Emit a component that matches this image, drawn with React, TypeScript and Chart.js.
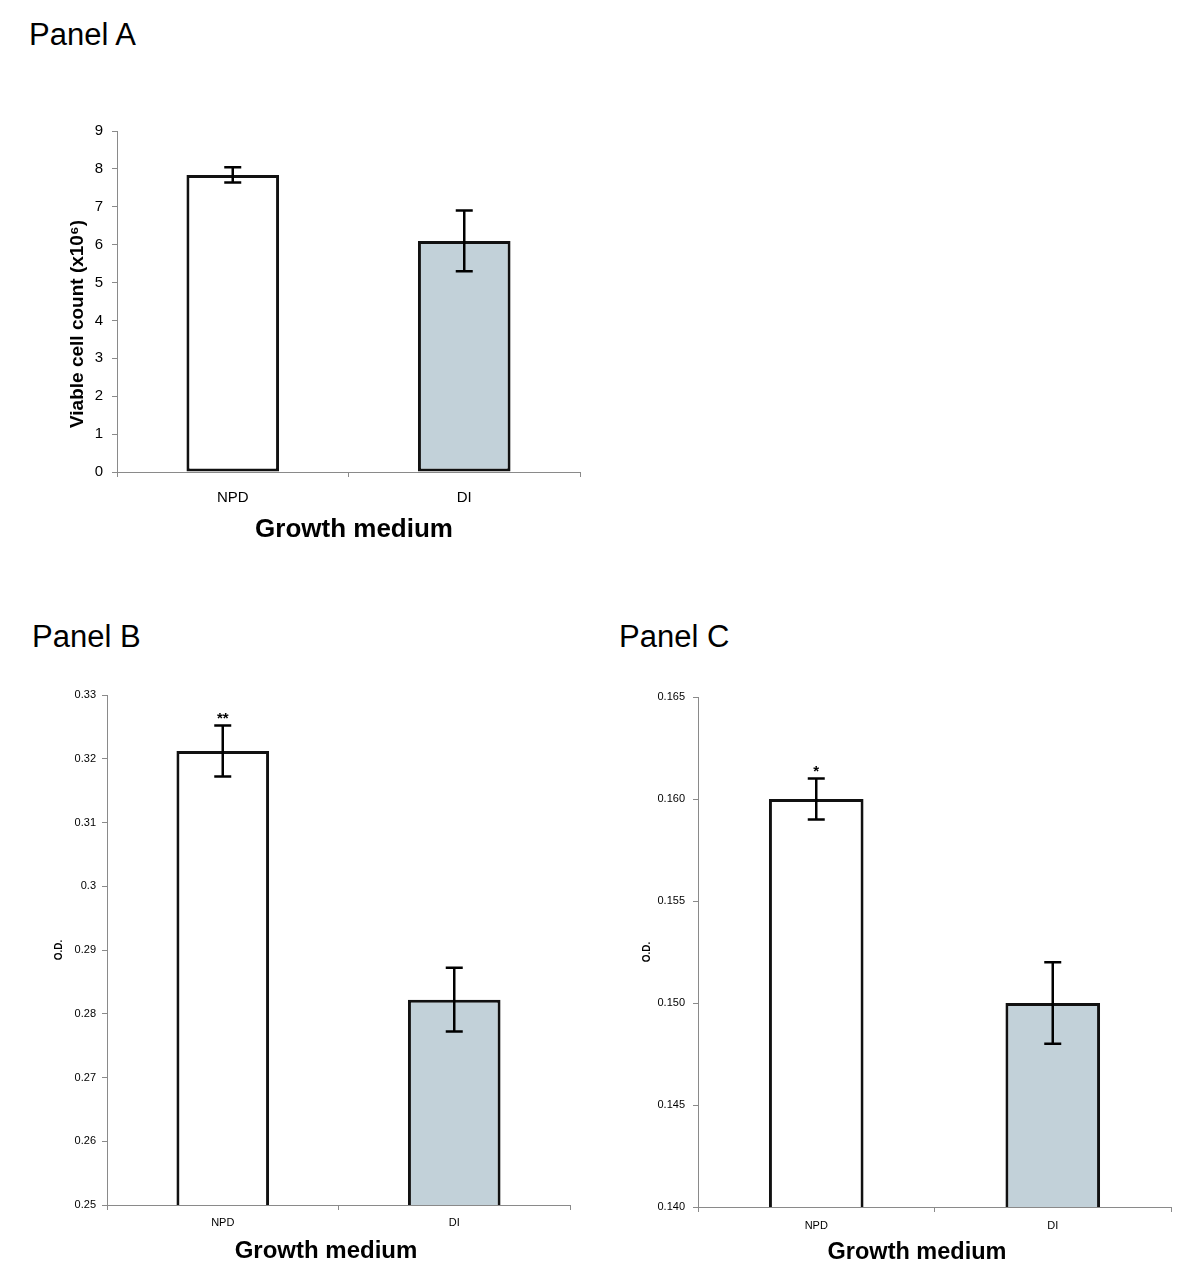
import React, { useEffect, useRef } from "react";
import { Chart, registerables } from "chart.js";

Chart.register(...registerables);

// ---------------- data ----------------
const categories = ["NPD", "DI"];
const barColors = ["#ffffff", "#c2d1d9"];

const panelAValues = [7.84, 6.1];
const panelAErrors = [0.2, 0.8];
const panelATicks = [0, 1, 2, 3, 4, 5, 6, 7, 8, 9];
const panelATickLabels = ["0", "1", "2", "3", "4", "5", "6", "7", "8", "9"];
const panelAMarks = ["", ""];

const panelBValues = [0.3212, 0.2822];
const panelBErrors = [0.004, 0.005];
const panelBTicks = [0.25, 0.26, 0.27, 0.28, 0.29, 0.3, 0.31, 0.32, 0.33];
const panelBTickLabels = ["0.25", "0.26", "0.27", "0.28", "0.29", "0.3", "0.31", "0.32", "0.33"];
const panelBMarks = ["**", ""];

const panelCValues = [0.16, 0.15];
const panelCErrors = [0.001, 0.002];
const panelCTicks = [0.14, 0.145, 0.15, 0.155, 0.16, 0.165];
const panelCTickLabels = ["0.140", "0.145", "0.150", "0.155", "0.160", "0.165"];
const panelCMarks = ["*", ""];

const xTitle = "Growth medium";
const yTitleA = "Viable cell count (x10\u2076)";
const yTitleOD = "O.D.";

// ---------------- styling / layout ----------------
const FONT = "'Liberation Sans', Arial, Helvetica, sans-serif";
const AXIS = "#8a8a8a";

type PanelProps = {
  values: number[];
  errors: number[];
  ticks: number[];
  tickLabels: string[];
  marks: string[];
  yTitle: string;
  layout: {
    left: number; top: number; width: number; height: number;
    padTop: number; padRight: number; yWidth: number; xHeight: number;
    tickSize: number; xPad: number; yPad: number;
    yTitleX: number; yTitleY: number; yTitleSize: number;
    xTitleX: number; xTitleY: number; xTitleSize: number;
    markSize: number;
  };
};

function BarPanel(props: PanelProps) {
  const ref = useRef<HTMLCanvasElement | null>(null);
  useEffect(() => {
    const canvas = ref.current;
    if (!canvas) return;
    const L = props.layout;
    const overlay = {
      id: "overlay",
      afterDatasetsDraw(chart: any) {
        const ctx = chart.ctx;
        const meta = chart.getDatasetMeta(0);
        const ys = chart.scales.y;
        ctx.save();
        ctx.strokeStyle = "#000";
        ctx.lineWidth = 2.5;
        const cap = 17;
        props.values.forEach((v, i) => {
          const el = meta.data[i];
          const x = el.x;
          const yt = ys.getPixelForValue(v + props.errors[i]);
          const yb = ys.getPixelForValue(v - props.errors[i]);
          ctx.beginPath();
          ctx.moveTo(x, yt);
          ctx.lineTo(x, yb);
          ctx.moveTo(x - cap / 2, yt);
          ctx.lineTo(x + cap / 2, yt);
          ctx.moveTo(x - cap / 2, yb);
          ctx.lineTo(x + cap / 2, yb);
          ctx.stroke();
          if (props.marks[i]) {
            ctx.fillStyle = "#000";
            ctx.font = `bold ${L.markSize}px ${FONT}`;
            ctx.textAlign = "center";
            ctx.textBaseline = "alphabetic";
            ctx.fillText(props.marks[i], x, yt - 3);
          }
        });
        // axis titles
        ctx.fillStyle = "#000";
        ctx.textAlign = "center";
        ctx.textBaseline = "middle";
        ctx.font = `bold ${L.xTitleSize}px ${FONT}`;
        ctx.fillText(xTitle, L.xTitleX, L.xTitleY);
        ctx.save();
        ctx.translate(L.yTitleX, L.yTitleY);
        ctx.rotate(-Math.PI / 2);
        ctx.font = `bold ${L.yTitleSize}px ${FONT}`;
        ctx.fillText(props.yTitle, 0, 0);
        ctx.restore();
        ctx.restore();
      },
    };
    const chart = new Chart(canvas, {
      type: "bar",
      data: {
        labels: categories,
        datasets: [
          {
            data: props.values,
            backgroundColor: barColors,
            borderColor: "#111111",
            borderWidth: 3,
            borderSkipped: false,
            barPercentage: 0.4,
            categoryPercentage: 1,
          },
        ],
      },
      options: {
        animation: false,
        responsive: false,
        maintainAspectRatio: false,
        devicePixelRatio: 1,
        layout: { padding: { top: L.padTop, right: L.padRight, left: 0, bottom: 0 } },
        plugins: { legend: { display: false }, tooltip: { enabled: false }, title: { display: false } },
        scales: {
          x: {
            type: "category",
            offset: true,
            grid: { display: true, drawOnChartArea: false, drawTicks: true, tickLength: 5, color: AXIS, offset: true },
            border: { display: true, color: AXIS, width: 1 },
            ticks: { color: "#000", font: { family: FONT, size: L.tickSize }, padding: L.xPad, maxRotation: 0 },
            afterFit: (s: any) => { s.height = L.xHeight; },
          },
          y: {
            type: "linear",
            min: props.ticks[0],
            max: props.ticks[props.ticks.length - 1],
            afterBuildTicks: (s: any) => { s.ticks = props.ticks.map((v) => ({ value: v })); },
            grid: { display: true, drawOnChartArea: false, drawTicks: true, tickLength: 5, color: AXIS },
            border: { display: true, color: AXIS, width: 1 },
            ticks: {
              color: "#000",
              font: { family: FONT, size: L.tickSize },
              padding: L.yPad,
              callback: (_v: any, i: number) => props.tickLabels[i],
            },
            afterFit: (s: any) => { s.width = L.yWidth; },
          },
        },
      },
      plugins: [overlay],
    } as any);
    return () => chart.destroy();
  }, []);
  const L = props.layout;
  return (
    <canvas
      ref={ref}
      width={L.width}
      height={L.height}
      style={{ position: "absolute", left: L.left, top: L.top, width: L.width, height: L.height }}
    />
  );
}

const titleStyle = (left: number, top: number): React.CSSProperties => ({
  position: "absolute",
  left,
  top,
  fontFamily: FONT,
  fontSize: 31,
  lineHeight: "31px",
  color: "#000",
  whiteSpace: "nowrap",
});

export default function App() {
  return (
    <div style={{ position: "absolute", left: 0, top: 0, width: 1200, height: 1287, background: "#fff", overflow: "hidden" }}>
      <div style={titleStyle(29, 19)}>Panel A</div>
      <div style={titleStyle(32, 621)}>Panel B</div>
      <div style={titleStyle(619, 621)}>Panel C</div>
      <BarPanel
        values={panelAValues}
        errors={panelAErrors}
        ticks={panelATicks}
        tickLabels={panelATickLabels}
        marks={panelAMarks}
        yTitle={yTitleA}
        layout={{
          left: 40, top: 100, width: 560, height: 460,
          padTop: 31, padRight: 20, yWidth: 77, xHeight: 88,
          tickSize: 15, xPad: 12, yPad: 9,
          yTitleX: 38, yTitleY: 224, yTitleSize: 19,
          xTitleX: 314, xTitleY: 430, xTitleSize: 26,
          markSize: 15,
        }}
      />
      <BarPanel
        values={panelBValues}
        errors={panelBErrors}
        ticks={panelBTicks}
        tickLabels={panelBTickLabels}
        marks={panelBMarks}
        yTitle={yTitleOD}
        layout={{
          left: 20, top: 680, width: 570, height: 600,
          padTop: 15, padRight: 20, yWidth: 87, xHeight: 75,
          tickSize: 11, xPad: 6, yPad: 6,
          yTitleX: 39, yTitleY: 270, yTitleSize: 10,
          xTitleX: 306, xTitleY: 571.5, xTitleSize: 24,
          markSize: 15,
        }}
      />
      <BarPanel
        values={panelCValues}
        errors={panelCErrors}
        ticks={panelCTicks}
        tickLabels={panelCTickLabels}
        marks={panelCMarks}
        yTitle={yTitleOD}
        layout={{
          left: 610, top: 680, width: 580, height: 600,
          padTop: 17, padRight: 19, yWidth: 88, xHeight: 73,
          tickSize: 11, xPad: 7, yPad: 8,
          yTitleX: 37, yTitleY: 272, yTitleSize: 10,
          xTitleX: 307, xTitleY: 573, xTitleSize: 23.5,
          markSize: 15,
        }}
      />
    </div>
  );
}
